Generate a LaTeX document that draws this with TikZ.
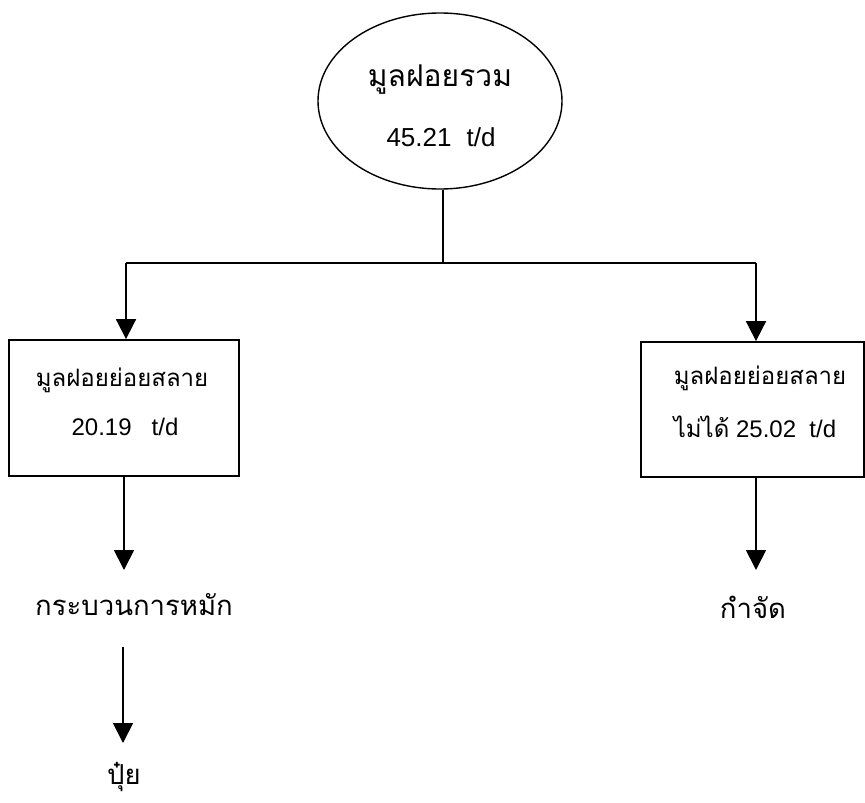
\documentclass[tikz,border=0pt]{standalone}
\usepackage{fontspec}
\setmainfont{Liberation Sans}
\newfontfamily\thaifont[Script=Thai]{Loma}
\usetikzlibrary{shapes.geometric,arrows.meta}
\tikzset{
  line/.style={line width=1.8pt,black},
  arr/.style={line width=1.8pt,black,-{Triangle[length=20pt,width=20pt]}},
  boxnode/.style={draw,line width=1.8pt,rectangle,inner sep=0pt},
  txt/.style={inner sep=0pt,font=\fontsize{24}{28}\selectfont},
  thai/.style={inner sep=0pt,font=\thaifont\fontsize{24}{28}\selectfont},
  bigthai/.style={inner sep=0pt,font=\thaifont\fontsize{27.5}{32}\selectfont},
}
\begin{document}
\begin{tikzpicture}[x=1pt,y=-1pt]
\useasboundingbox (0,0) rectangle (865,803);
% top ellipse
\node[draw,ellipse,line width=1.4pt,minimum width=244pt,minimum height=176pt,inner sep=0pt] (ell) at (440,101) {};
\node[inner sep=0pt,font=\thaifont\fontsize{30}{34}\selectfont] (t1) at (440,80) {มูลฝอยรวม};
\node[inner sep=0pt,font=\fontsize{26}{30}\selectfont] (t2) at (441,137) {45.21\hspace{15pt}t/d};
% boxes
\node[boxnode,minimum width=230pt,minimum height=136pt] (bl) at (124,408) {};
\node[thai] (bl1) at (122,380) {มูลฝอยย่อยสลาย};
\node[txt] (bl2) at (125,427) {20.19\ \ \ t/d};
\node[boxnode,minimum width=223pt,minimum height=135pt] (br) at (752.5,409.5) {};
\node[thai] (br1) at (760,378) {มูลฝอยย่อยสลาย};
\node[txt] (br2) at (755,427) {{\thaifont ไม่ได้} 25.02\ \ t/d};
% lower texts
\node[bigthai] (comp) at (134,605) {กระบวนการหมัก};
\node[bigthai] (fert) at (124,777) {ปุ๋ย};
\node[bigthai] (disp) at (753,607) {กำจัด};
% junctions
\coordinate (j) at (443,263);
\coordinate (jl) at (126,263);
\coordinate (jr) at (756,263);
\coordinate (tl) at (124,570);
\coordinate (tr) at (756,570);
\coordinate (c1) at (123,647);
\coordinate (c2) at (123,743);
\draw[line] (j |- ell.south) -- (j);
\draw[line] (jl) -- (jr);
\draw[arr] (jl) -- (jl |- bl.north);
\draw[arr] (jr) -- (jr |- br.north);
\draw[arr] (tl |- bl.south) -- (tl);
\draw[arr] (tr |- br.south) -- (tr);
\draw[arr] (c1) -- (c2);
\end{tikzpicture}
\end{document}
